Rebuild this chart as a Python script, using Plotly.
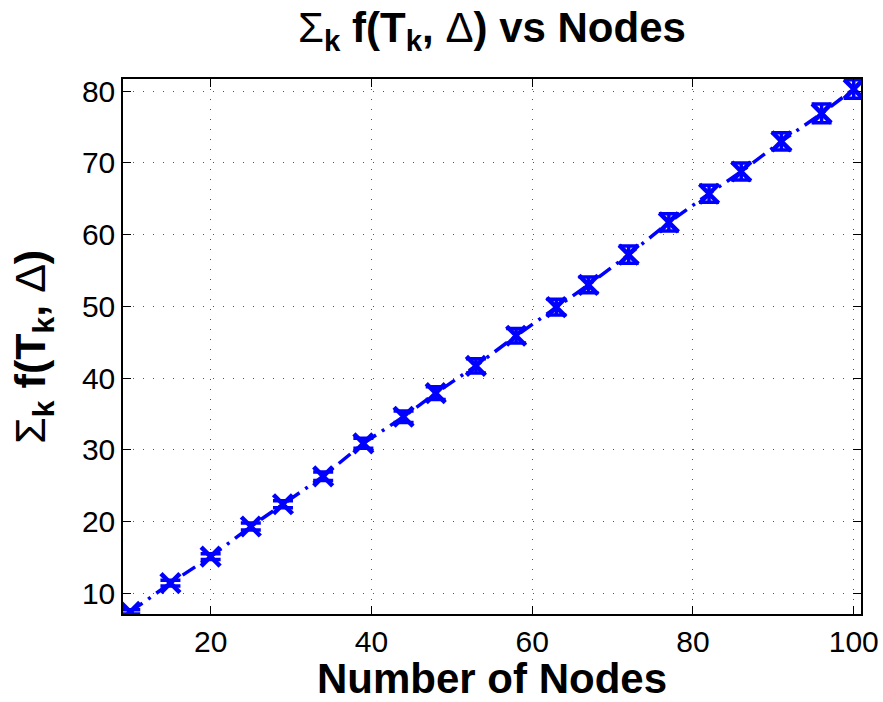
import plotly.graph_objects as go

# Sum of f(T_k, Delta) measured for each network size
nodes = [10, 15, 20, 25, 29, 34, 39, 44, 48, 53, 58, 63, 67, 72, 77, 82, 86, 91, 96, 100]
f_sum = [7.4, 11.4, 15.1, 19.3, 22.4, 26.3, 30.9, 34.6, 37.9, 41.7,
         45.9, 49.9, 53.0, 57.2, 61.7, 65.7, 68.8, 73.0, 76.9, 80.3]
f_err = [0.3, 0.4, 0.4, 0.5, 0.5, 0.6, 0.7, 0.8, 0.9, 1.0,
         1.0, 1.1, 1.1, 1.2, 1.2, 1.2, 1.2, 1.2, 1.3, 1.3]

x_ticks = [20, 40, 60, 80, 100]
y_ticks = [10, 20, 30, 40, 50, 60, 70, 80]

BLUE = "#0000FF"
FONT = "Liberation Sans, Arial, Helvetica, sans-serif"

fig = go.Figure()
fig.add_trace(go.Scatter(
    x=nodes,
    y=f_sum,
    mode="lines+markers",
    line=dict(color=BLUE, width=3.5, dash="15px,7px,3px,7px"),
    marker=dict(symbol="x-thin", size=19, color=BLUE,
                line=dict(color=BLUE, width=4.5)),
    error_y=dict(type="data", array=f_err, visible=True,
                 color=BLUE, thickness=3.5, width=10),
    showlegend=False,
))

axis_common = dict(
    showline=True, linecolor="black", linewidth=1.5, mirror="ticks",
    ticks="inside", ticklen=8, tickwidth=1.2, tickcolor="black",
    showgrid=True, gridcolor="#555555", gridwidth=1, griddash="1px,9px",
    zeroline=False,
    tickfont=dict(family=FONT, size=30, color="black"),
)

fig.update_xaxes(range=[9.1, 100.9], tickvals=x_ticks,
                 ticktext=[str(v) for v in x_ticks], **axis_common)
fig.update_yaxes(range=[7.1, 81.7], tickvals=y_ticks,
                 ticktext=[str(v) for v in y_ticks], **axis_common)

fig.update_layout(
    width=883, height=702,
    margin=dict(l=123, r=22, t=79, b=88, autoexpand=False),
    paper_bgcolor="white", plot_bgcolor="white",
    font=dict(family=FONT, color="black"),
    title=dict(
        text="Σ<b><sub>k</sub> f(T<sub>k</sub>, </b>Δ<b>) vs Nodes</b>",
        x=0.5, xref="paper", xanchor="center",
        y=0.982, yref="container", yanchor="top",
        font=dict(family=FONT, size=42, color="black"),
    ),
    annotations=[
        dict(text="<b>Number of Nodes</b>", xref="paper", yref="paper",
             x=0.5, y=-0.072, xanchor="center", yanchor="top",
             showarrow=False, font=dict(family=FONT, size=42, color="black")),
        dict(text="Σ<b><sub>k</sub> f(T<sub>k</sub>, </b>Δ<b>)</b>",
             xref="paper", yref="paper", x=-0.123, y=0.5,
             xanchor="center", yanchor="middle", textangle=-90,
             showarrow=False, font=dict(family=FONT, size=43, color="black")),
    ],
)

fig.write_html("out.html")
